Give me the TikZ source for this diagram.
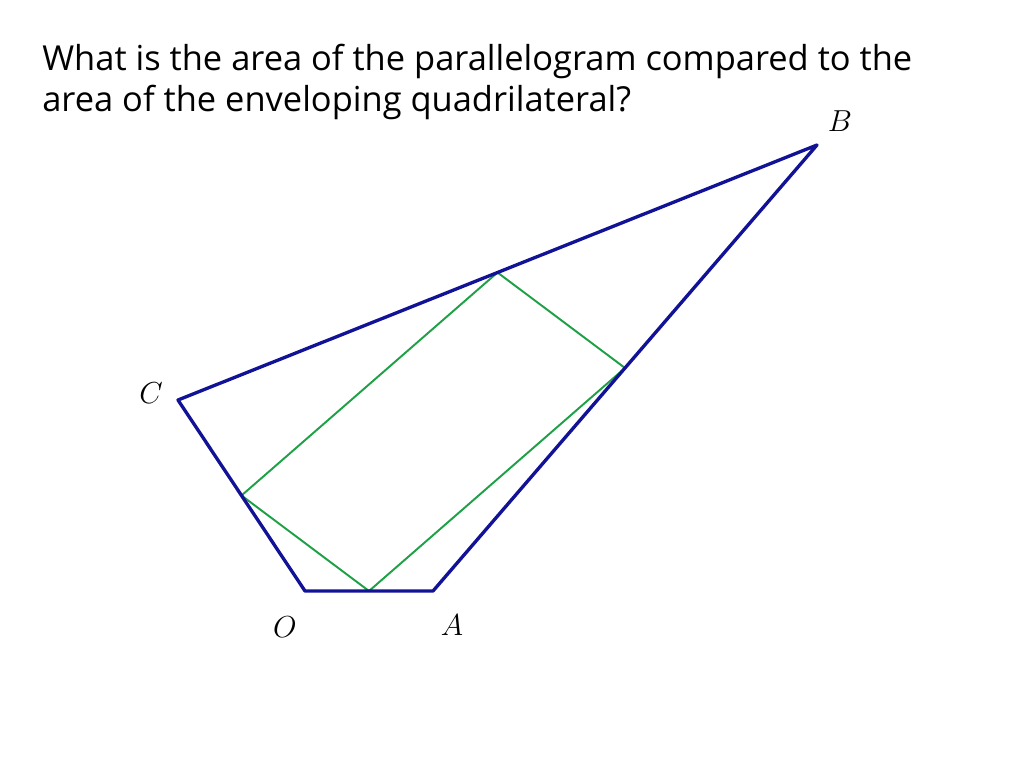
\documentclass[tikz,border=0pt]{standalone}
\usepackage{fontspec}
\setmainfont{Open Sans}
\usetikzlibrary{calc,positioning}
\definecolor{edgeblue}{RGB}{18,18,150}
\definecolor{midgreen}{RGB}{30,160,70}
\tikzset{
    quad/.style={draw=edgeblue,line width=1.9pt,line join=round},
    para/.style={draw=midgreen,line width=1.1pt,line join=round},
    vlabel/.style={font=\fontsize{17}{19}\selectfont},
    question/.style={align=left,anchor=north west,inner sep=0pt,font=\fontsize{19.6}{23.5}\selectfont},
}
\begin{document}
\begin{tikzpicture}[x=0.02cm,y=-0.02cm]
\useasboundingbox (0,0) rectangle (1024,768);
\node[question](Q) at (42,44) {What is the area of the parallelogram compared to the\\area of the enveloping quadrilateral?};
\coordinate (O) at (305,591);
\coordinate (A) at (433,591);
\coordinate (B) at (817,145);
\coordinate (C) at (178,400);
\coordinate (mOA) at ($(O)!0.5!(A)$);
\coordinate (mAB) at ($(A)!0.5!(B)$);
\coordinate (mBC) at ($(B)!0.5!(C)$);
\coordinate (mCO) at ($(C)!0.5!(O)$);
\draw[para] (mOA) -- (mAB) -- (mBC) -- (mCO) -- cycle;
\draw[quad] (O) -- (A) -- (B) -- (C) -- cycle;
\node[vlabel](lB) at (840,121) {$B$};
\node[vlabel](lC) at (151,393) {$C$};
\node[vlabel](lO) at (285,627) {$O$};
\node[vlabel](lA) at (452,625) {$A$};
\end{tikzpicture}
\end{document}
